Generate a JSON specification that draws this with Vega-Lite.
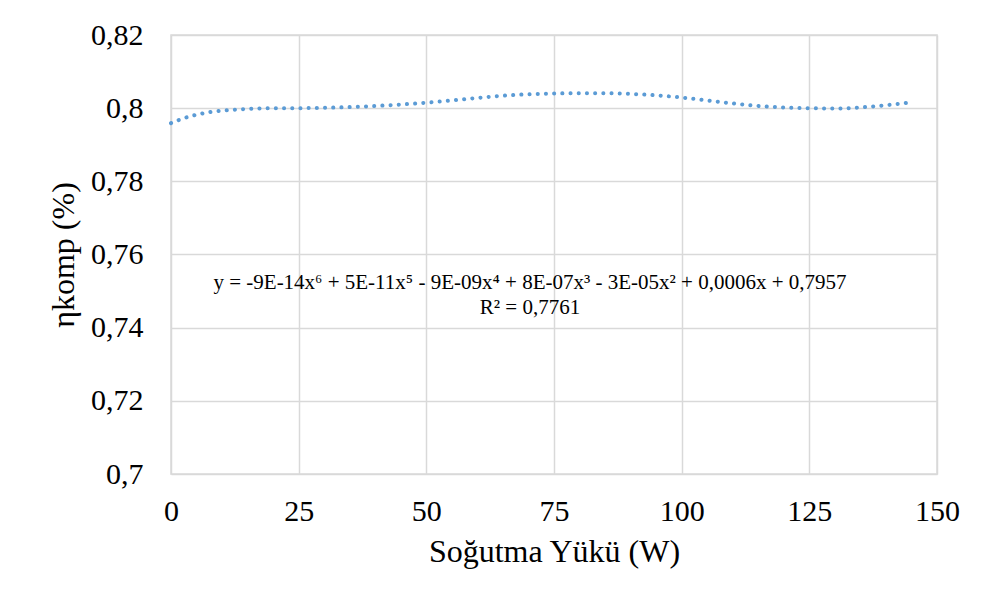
{
  "$schema": "https://vega.github.io/schema/vega-lite/v6.json",
  "width": 766,
  "height": 439,
  "padding": {"left": 171, "top": 35, "right": 49, "bottom": 134},
  "autosize": {"type": "none"},
  "background": "white",
  "config": {
    "font": "Liberation Serif, Times New Roman, DejaVu Serif, serif",
    "view": {"stroke": "#d9d9d9", "strokeWidth": 1.5},
    "text": {"font": "Liberation Serif, Times New Roman, DejaVu Serif, serif"},
    "axis": {
      "grid": true,
      "gridColor": "#d9d9d9",
      "gridWidth": 1.5,
      "domain": false,
      "ticks": false,
      "labelFlush": false,
      "labelFont": "Liberation Serif, Times New Roman, DejaVu Serif, serif",
      "labelFontSize": 30,
      "labelColor": "#000000",
      "titleFont": "Liberation Serif, Times New Roman, DejaVu Serif, serif",
      "titleColor": "#000000",
      "titleFontWeight": "normal"
    }
  },
  "datasets": {
    "curve": [
      {"load": 0, "eta": 0.7959},
      {"load": 2, "eta": 0.7970},
      {"load": 5, "eta": 0.7982},
      {"load": 7.5, "eta": 0.7989},
      {"load": 10, "eta": 0.7993},
      {"load": 15, "eta": 0.7998},
      {"load": 20, "eta": 0.8000},
      {"load": 25, "eta": 0.8000},
      {"load": 30, "eta": 0.8001},
      {"load": 35, "eta": 0.8003},
      {"load": 40, "eta": 0.8006},
      {"load": 45, "eta": 0.8010},
      {"load": 50, "eta": 0.8015},
      {"load": 55, "eta": 0.8021},
      {"load": 60, "eta": 0.8028},
      {"load": 65, "eta": 0.8034},
      {"load": 70, "eta": 0.8038},
      {"load": 75, "eta": 0.8040},
      {"load": 80, "eta": 0.8041},
      {"load": 85, "eta": 0.8041},
      {"load": 90, "eta": 0.8039},
      {"load": 95, "eta": 0.8035},
      {"load": 100, "eta": 0.8029},
      {"load": 105, "eta": 0.8021},
      {"load": 110, "eta": 0.8013},
      {"load": 115, "eta": 0.8006},
      {"load": 120, "eta": 0.8002},
      {"load": 125, "eta": 0.8000},
      {"load": 130, "eta": 0.7999},
      {"load": 135, "eta": 0.8002},
      {"load": 140, "eta": 0.8008},
      {"load": 145, "eta": 0.8016}
    ],
    "label": [
      {"load": 70.3, "eta": 0.7522, "text": ["y = -9E-14x⁶ + 5E-11x⁵ - 9E-09x⁴ + 8E-07x³ - 3E-05x² + 0,0006x + 0,7957", "R² = 0,7761"]}
    ]
  },
  "layer": [
    {
      "data": {"name": "curve"},
      "mark": {"type": "line", "color": "#5b9bd5", "strokeWidth": 4, "strokeCap": "round", "strokeDash": [0.1, 8.1], "interpolate": "monotone"},
      "encoding": {
        "x": {
          "field": "load", "type": "quantitative",
          "scale": {"domain": [0, 150], "nice": false, "zero": false},
          "axis": {"values": [0, 25, 50, 75, 100, 125, 150], "labelPadding": 22, "title": "Soğutma Yükü (W)", "titleFontSize": 32, "titlePadding": 10}
        },
        "y": {
          "field": "eta", "type": "quantitative",
          "scale": {"domain": [0.7, 0.82], "nice": false, "zero": false},
          "axis": {"values": [0.7, 0.72, 0.74, 0.76, 0.78, 0.8, 0.82], "labelExpr": "replace(format(datum.value, '~g'), '.', ',')", "labelPadding": 28, "title": "ηkomp (%)", "titleFontSize": 32, "titlePadding": 10}
        }
      }
    },
    {
      "data": {"name": "label"},
      "mark": {"type": "text", "font": "Liberation Serif, Times New Roman, DejaVu Serif, serif", "fontSize": 21, "color": "#000000", "align": "center", "baseline": "middle", "lineHeight": 25},
      "encoding": {
        "x": {"field": "load", "type": "quantitative"},
        "y": {"field": "eta", "type": "quantitative"},
        "text": {"field": "text"}
      }
    }
  ]
}
